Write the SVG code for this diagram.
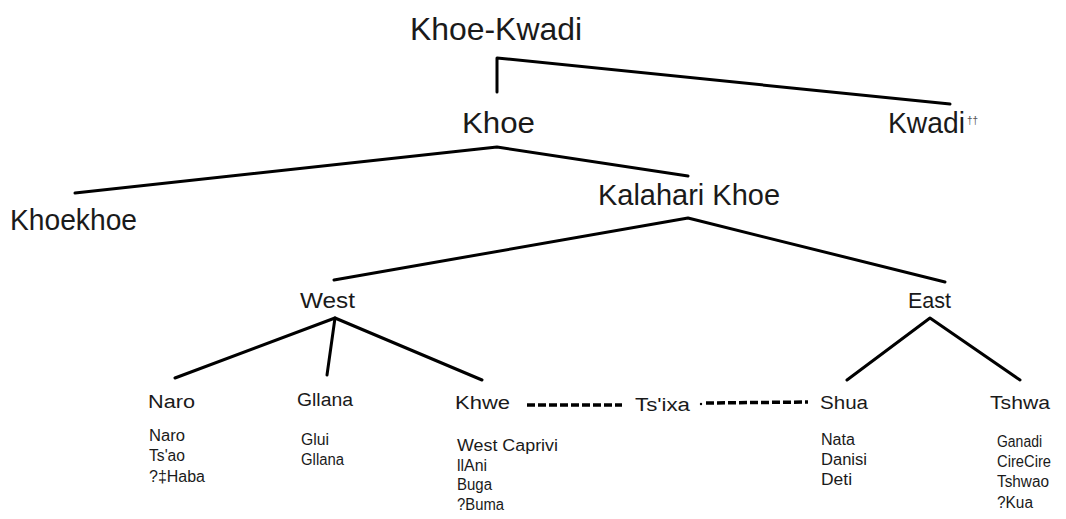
<svg xmlns="http://www.w3.org/2000/svg" width="1066" height="519" viewBox="0 0 1066 519">
<style>
text{font-family:"Liberation Sans",Arial,sans-serif;fill:#1a1a1a}
.l1{font-size:32px}
.l2{font-size:29px}
.l3{font-size:22px}
.l4{font-size:18px}
.l5{font-size:16px}
.e{stroke:#000;stroke-width:3;fill:none;stroke-linecap:round;stroke-linejoin:round}
.d{stroke:#000;stroke-width:3.5;fill:none;stroke-dasharray:8,3}
</style>
<rect width="1066" height="519" fill="#fff"/>
<g id="connectors">
<polyline class="e" points="497,92 497,58 950,104"/>
<polyline class="e" points="75,193 497,147 688,176"/>
<polyline class="e" points="334,280 688,218 945,282"/>
<polyline class="e" points="175,378 335,318 482,380"/>
<line class="e" x1="335" y1="318" x2="327" y2="375"/>
<polyline class="e" points="847,380 930,318 1020,380"/>
<line class="d" x1="527" y1="405" x2="622" y2="405"/>
<line class="d" x1="706" y1="403" x2="808" y2="402"/>
<circle cx="701" cy="404" r="1.2" fill="#000"/>
</g>
<g id="khoe-kwadi"><text class="l1" x="410" y="40" textLength="172" lengthAdjust="spacingAndGlyphs">Khoe-Kwadi</text></g>
<g id="khoe"><text class="l2" x="462" y="133" textLength="73" lengthAdjust="spacingAndGlyphs">Khoe</text></g>
<g id="kwadi"><text class="l2" x="888" y="133" textLength="77" lengthAdjust="spacingAndGlyphs">Kwadi</text><text x="967" y="124" style="font-size:10px;fill:#555">††</text></g>
<g id="khoekhoe"><text class="l2" x="10" y="230" textLength="127" lengthAdjust="spacingAndGlyphs">Khoekhoe</text></g>
<g id="kalahari-khoe"><text class="l2" x="598" y="205" textLength="182" lengthAdjust="spacingAndGlyphs">Kalahari Khoe</text></g>
<g id="west"><text class="l3" x="300" y="308" textLength="55" lengthAdjust="spacingAndGlyphs">West</text></g>
<g id="east"><text class="l3" x="908" y="308" textLength="43" lengthAdjust="spacingAndGlyphs">East</text></g>
<g id="naro"><text class="l4" x="148" y="408" textLength="47" lengthAdjust="spacingAndGlyphs">Naro</text>
<text class="l5" x="149" y="441" textLength="36" lengthAdjust="spacingAndGlyphs">Naro</text><text class="l5" x="149" y="461" textLength="36" lengthAdjust="spacingAndGlyphs">Ts'ao</text><text class="l5" x="149" y="482" textLength="56" lengthAdjust="spacingAndGlyphs">?‡Haba</text></g>
<g id="gllana"><text class="l4" x="297" y="406" textLength="56" lengthAdjust="spacingAndGlyphs">Gllana</text>
<text class="l5" x="301" y="445" textLength="28" lengthAdjust="spacingAndGlyphs">Glui</text><text class="l5" x="301" y="465" textLength="43" lengthAdjust="spacingAndGlyphs">Gllana</text></g>
<g id="khwe"><text class="l4" x="455" y="409" textLength="55" lengthAdjust="spacingAndGlyphs">Khwe</text>
<text class="l5" x="457" y="451" textLength="101" lengthAdjust="spacingAndGlyphs">West Caprivi</text><text class="l5" x="457" y="471" textLength="30" lengthAdjust="spacingAndGlyphs">llAni</text><text class="l5" x="457" y="490" textLength="35" lengthAdjust="spacingAndGlyphs">Buga</text><text class="l5" x="457" y="510" textLength="47" lengthAdjust="spacingAndGlyphs">?Buma</text></g>
<g id="tsixa"><text class="l4" x="635" y="411" textLength="55" lengthAdjust="spacingAndGlyphs">Ts'ixa</text></g>
<g id="shua"><text class="l4" x="820" y="409" textLength="48" lengthAdjust="spacingAndGlyphs">Shua</text>
<text class="l5" x="821" y="445" textLength="34" lengthAdjust="spacingAndGlyphs">Nata</text><text class="l5" x="821" y="465" textLength="46" lengthAdjust="spacingAndGlyphs">Danisi</text><text class="l5" x="821" y="485" textLength="31" lengthAdjust="spacingAndGlyphs">Deti</text></g>
<g id="tshwa"><text class="l4" x="990" y="409" textLength="60" lengthAdjust="spacingAndGlyphs">Tshwa</text>
<text class="l5" x="997" y="447" textLength="45" lengthAdjust="spacingAndGlyphs">Ganadi</text><text class="l5" x="997" y="467" textLength="54" lengthAdjust="spacingAndGlyphs">CireCire</text><text class="l5" x="997" y="487" textLength="52" lengthAdjust="spacingAndGlyphs">Tshwao</text><text class="l5" x="997" y="508" textLength="36" lengthAdjust="spacingAndGlyphs">?Kua</text></g>
</svg>
